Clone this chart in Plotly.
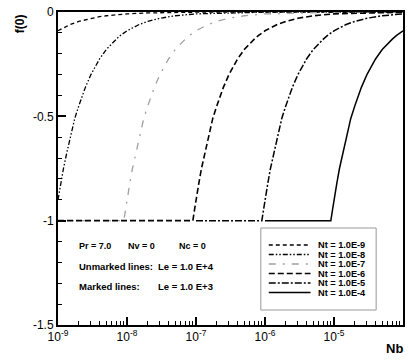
import plotly.graph_objects as go

# ---------------- data ----------------
nt_labels = ["Nt = 1.0E-9", "Nt = 1.0E-8", "Nt = 1.0E-7", "Nt = 1.0E-6", "Nt = 1.0E-5", "Nt = 1.0E-4"]

nb_nt9 = [1e-9, 1.5e-9, 2e-9, 3e-9, 4e-9, 5e-9, 7e-9, 1e-8, 2e-8, 5e-8, 1e-7, 1e-6, 1e-4]
f_nt9 = [-0.09, -0.06, -0.045, -0.03, -0.0225, -0.018, -0.013, -0.009, -0.0045, -0.0018, -0.0009, -0.0001, 0.0]

nb_nt8 = [1e-9, 1.1e-9, 1.2e-9, 1.35e-9, 1.5e-9, 1.75e-9, 2e-9, 2.5e-9, 3e-9, 4e-9, 5e-9, 6e-9, 7e-9, 8e-9,
          1e-8, 1.5e-8, 2e-8, 3e-8, 5e-8, 1e-7, 1e-6, 1e-4]
f_nt8 = [-0.90, -0.82, -0.75, -0.67, -0.60, -0.51, -0.45, -0.36, -0.30, -0.225, -0.18, -0.15, -0.13, -0.113,
         -0.09, -0.06, -0.045, -0.03, -0.018, -0.009, -0.0009, 0.0]

nb_nt7 = [1e-9, 9e-9, 9.5e-9, 1e-8, 1.1e-8, 1.2e-8, 1.35e-8, 1.5e-8, 1.75e-8, 2e-8, 2.5e-8, 3e-8, 4e-8, 5e-8,
          6e-8, 7e-8, 8e-8, 1e-7, 1.5e-7, 2e-7, 3e-7, 5e-7, 1e-6, 1e-5, 1e-4]
f_nt7 = [-1.0, -1.0, -0.95, -0.90, -0.82, -0.75, -0.67, -0.60, -0.51, -0.45, -0.36, -0.30, -0.225, -0.18,
         -0.15, -0.13, -0.113, -0.09, -0.06, -0.045, -0.03, -0.018, -0.009, -0.0009, 0.0]

nb_nt6 = [1e-9, 9e-8, 9.5e-8, 1e-7, 1.1e-7, 1.2e-7, 1.35e-7, 1.5e-7, 1.75e-7, 2e-7, 2.5e-7, 3e-7, 4e-7, 5e-7,
          6e-7, 7e-7, 8e-7, 1e-6, 1.5e-6, 2e-6, 3e-6, 5e-6, 1e-5, 1e-4]
f_nt6 = [-1.0, -1.0, -0.95, -0.90, -0.82, -0.75, -0.67, -0.60, -0.51, -0.45, -0.36, -0.30, -0.225, -0.18,
         -0.15, -0.13, -0.113, -0.09, -0.06, -0.045, -0.03, -0.018, -0.009, -0.0009]

nb_nt5 = [1e-7, 9e-7, 9.5e-7, 1e-6, 1.1e-6, 1.2e-6, 1.35e-6, 1.5e-6, 1.75e-6, 2e-6, 2.5e-6, 3e-6, 4e-6, 5e-6,
          6e-6, 7e-6, 8e-6, 1e-5, 1.5e-5, 2e-5, 3e-5, 5e-5, 1e-4]
f_nt5 = [-1.0, -1.0, -0.95, -0.90, -0.82, -0.75, -0.67, -0.60, -0.51, -0.45, -0.36, -0.30, -0.225, -0.18,
         -0.15, -0.13, -0.113, -0.09, -0.06, -0.045, -0.03, -0.018, -0.009]

nb_nt4 = [1e-6, 9e-6, 9.5e-6, 1e-5, 1.1e-5, 1.2e-5, 1.35e-5, 1.5e-5, 1.75e-5, 2e-5, 2.5e-5, 3e-5, 4e-5, 5e-5,
          6e-5, 7e-5, 8e-5, 1e-4]
f_nt4 = [-1.0, -1.0, -0.95, -0.90, -0.82, -0.75, -0.67, -0.60, -0.51, -0.45, -0.36, -0.30, -0.225, -0.18,
         -0.15, -0.13, -0.113, -0.09]

x_tickvals = [1e-9, 1e-8, 1e-7, 1e-6, 1e-5, 1e-4]
x_ticktext = ["10<sup>-9</sup>", "10<sup>-8</sup>", "10<sup>-7</sup>", "10<sup>-6</sup>", "10<sup>-5</sup>", "10<sup>-4</sup>"]
y_tickvals = [0, -0.5, -1, -1.5]
y_ticktext = ["0", "-0.5", "-1", "-1.5"]

# ---------------- styling ----------------
W, H = 409, 362
L, R, T, B = 58, 4, 12, 37
PW, PH = W - L - R, H - T - B
FONT = "Liberation Sans, Arial, sans-serif"


def px(x):
    return (x - L) / PW


def py(y):
    return (H - B - y) / PH


styles = [
    dict(color="black", width=1.3, dash="4px,3px"),
    dict(color="black", width=1.3, dash="5px,2px,1.5px,2px,1.5px,2px"),
    dict(color="#a0a0a0", width=1.3, dash="7px,7px,2px,7px"),
    dict(color="black", width=1.6, dash="6px,3px"),
    dict(color="black", width=1.5, dash="7px,2px,2px,2px"),
    dict(color="black", width=1.5, dash="solid"),
]

series = [(nb_nt9, f_nt9), (nb_nt8, f_nt8), (nb_nt7, f_nt7), (nb_nt6, f_nt6), (nb_nt5, f_nt5), (nb_nt4, f_nt4)]

fig = go.Figure()
for (xs, ys), st, name in zip(series, styles, nt_labels):
    fig.add_trace(go.Scatter(x=xs, y=ys, mode="lines", line=st, name=name, showlegend=False))

# manual legend
shapes = []
annotations = []
leg_x0, leg_x1, leg_y0, leg_y1 = 262, 378, 228, 310
shapes.append(dict(type="rect", xref="paper", yref="paper", x0=px(leg_x0), x1=px(leg_x1),
                   y0=py(leg_y1), y1=py(leg_y0), line=dict(color="#999999", width=1),
                   fillcolor="white", layer="above"))
row_y = [245, 254.5, 264, 273.5, 283, 292.5]
for yy, st, name in zip(row_y, styles, nt_labels):
    shapes.append(dict(type="line", xref="paper", yref="paper", x0=px(270), x1=px(312),
                       y0=py(yy), y1=py(yy), line=st, layer="above"))
    annotations.append(dict(text="<b>" + name + "</b>", xref="paper", yref="paper", x=px(317), y=py(yy),
                            xanchor="left", yanchor="middle", showarrow=False,
                            font=dict(family=FONT, size=9.2, color="black")))

# parameter text
def txt(s, x, y, size=10):
    annotations.append(dict(text="<b>" + s + "</b>", xref="paper", yref="paper", x=px(x), y=py(y),
                            xanchor="left", yanchor="middle", showarrow=False,
                            font=dict(family=FONT, size=size, color="black")))

txt("Pr = 7.0", 77, 246, 9)
txt("Nv = 0", 126, 246, 9)
txt("Nc = 0", 178, 246, 9)
txt("Unmarked lines:", 77, 266, 9.5)
txt("Le = 1.0 E+4", 157, 266, 9.5)
txt("Marked lines:", 77, 286, 9.5)
txt("Le = 1.0 E+3", 157, 286, 9.5)

# axis titles
annotations.append(dict(text="<b>f(0)</b>", xref="paper", yref="paper", x=px(20), y=py(24),
                        xanchor="center", yanchor="middle", textangle=-90, showarrow=False,
                        font=dict(family=FONT, size=12, color="black")))
annotations.append(dict(text="<b>Nb</b>", xref="paper", yref="paper", x=px(396), y=py(348),
                        xanchor="center", yanchor="middle", showarrow=False,
                        font=dict(family=FONT, size=13, color="black")))

fig.update_layout(
    width=W, height=H,
    margin=dict(l=L, r=R, t=T, b=B),
    paper_bgcolor="white", plot_bgcolor="white",
    shapes=shapes, annotations=annotations,
    showlegend=False,
    font=dict(family=FONT, size=12, color="black"),
)
fig.update_xaxes(type="log", range=[-9, -4], showgrid=False, zeroline=False,
                 showline=True, linecolor="black", linewidth=2, mirror=True,
                 ticks="inside", ticklen=8, tickwidth=1.5, tickcolor="black",
                 tickvals=x_tickvals, ticktext=x_ticktext,
                 tickfont=dict(family=FONT, size=12),
                 minor=dict(ticks="inside", ticklen=4, tickwidth=1, tickcolor="black", dtick="D1"))
fig.update_yaxes(range=[-1.5, 0], showgrid=False, zeroline=False,
                 showline=True, linecolor="black", linewidth=2, mirror=True,
                 ticks="inside", ticklen=8, tickwidth=1.5, tickcolor="black",
                 tickvals=y_tickvals, ticktext=y_ticktext,
                 tickfont=dict(family=FONT, size=12),
                 minor=dict(ticks="inside", ticklen=4, tickwidth=1, tickcolor="black", dtick=0.1))

fig.write_html("out.html", config={"displayModeBar": False},
               post_script="document.body.style.margin='0';document.body.style.overflow='hidden';")
